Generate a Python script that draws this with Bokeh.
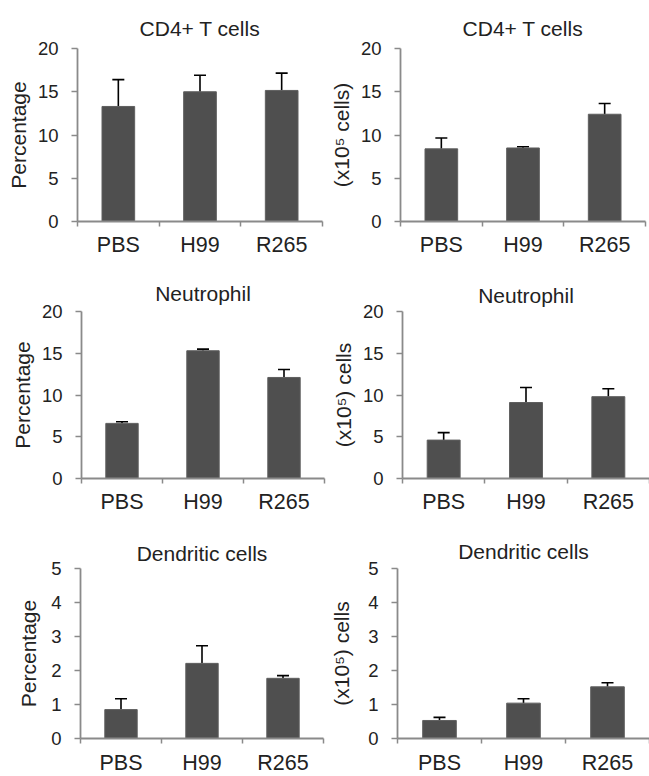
from bokeh.plotting import figure
from bokeh.layouts import column, row
from bokeh.models import Range1d, FixedTicker, ColumnDataSource, Whisker, TeeHead
from bokeh.embed import file_html
from bokeh.resources import INLINE

# ---- data ----
categories = ["PBS", "H99", "R265"]

cd4_pct = [13.3, 15.0, 15.15]
cd4_pct_err = [3.1, 1.9, 2.0]

cd4_num = [8.4, 8.5, 12.4]
cd4_num_err = [1.25, 0.15, 1.25]

neu_pct = [6.6, 15.3, 12.1]
neu_pct_err = [0.2, 0.2, 0.95]

neu_num = [4.6, 9.1, 9.8]
neu_num_err = [0.9, 1.8, 0.95]

dc_pct = [0.85, 2.21, 1.77]
dc_pct_err = [0.32, 0.52, 0.08]

dc_num = [0.53, 1.04, 1.52]
dc_num_err = [0.09, 0.13, 0.12]

ticks_20 = [0, 5, 10, 15, 20]
ticks_5 = [0, 1, 2, 3, 4, 5]

FONT = "Liberation Sans"
TXT = "#222222"
AX = "#8a8a8a"


def make(title, ylabel, vals, errs, ymax, yticks, bl, fw, br, bt, fh, bb,
         t_standoff, t_offset=0, label_standoff=5, x_standoff=6):
    n = len(categories)
    xs = [i + 0.5 for i in range(n)]
    src = ColumnDataSource(dict(x=xs, top=vals,
                                upper=[v + e for v, e in zip(vals, errs)]))
    p = figure(frame_width=fw, frame_height=fh,
               x_range=Range1d(0, n), y_range=Range1d(0, ymax),
               output_backend="svg", toolbar_location=None,
               min_border_left=bl, min_border_right=br,
               min_border_top=bt, min_border_bottom=bb)
    p.outline_line_color = None
    p.grid.visible = False
    p.background_fill_color = "white"

    p.vbar(x="x", top="top", bottom=0, width=0.4, source=src,
           fill_color="#4f4f4f", line_color="#5f5f5f", line_width=1)
    w = Whisker(base="x", lower="top", upper="upper", source=src,
                dimension="height", line_color="black", line_width=1.6,
                upper_head=TeeHead(size=12, line_color="black", line_width=1.6),
                lower_head=None)
    p.add_layout(w)

    p.title.text = title
    p.title.align = "center"
    p.title.text_font = FONT
    p.title.text_font_size = "21px"
    p.title.text_font_style = "normal"
    p.title.text_color = TXT
    p.title.standoff = t_standoff
    p.title.offset = t_offset

    xa = p.xaxis[0]
    xa.ticker = FixedTicker(ticks=xs, minor_ticks=list(range(n + 1)))
    xa.major_label_overrides = {x: c for x, c in zip(xs, categories)}
    xa.major_tick_line_color = None
    xa.major_tick_out = 5
    xa.major_tick_in = 0
    xa.minor_tick_line_color = AX
    xa.minor_tick_line_width = 1.5
    xa.minor_tick_out = 5
    xa.minor_tick_in = 0
    xa.axis_line_color = AX
    xa.axis_line_width = 1.8
    xa.major_label_text_font = FONT
    xa.major_label_text_font_size = "21.5px"
    xa.major_label_text_color = TXT
    xa.major_label_standoff = x_standoff

    ya = p.yaxis[0]
    ya.ticker = FixedTicker(ticks=yticks)
    ya.minor_tick_line_color = None
    ya.major_tick_out = 6
    ya.major_tick_in = 0
    ya.major_tick_line_color = AX
    ya.major_tick_line_width = 1.5
    ya.axis_line_color = AX
    ya.axis_line_width = 1.8
    ya.major_label_text_font = FONT
    ya.major_label_text_font_size = "18.5px"
    ya.major_label_text_color = TXT
    ya.major_label_standoff = 13
    ya.axis_label = ylabel
    ya.axis_label_text_font = FONT
    ya.axis_label_text_font_size = "21px"
    ya.axis_label_text_font_style = "normal"
    ya.axis_label_text_color = TXT
    ya.axis_label_standoff = label_standoff
    return p


# row 1
p1 = make("CD4+ T cells", "Percentage", cd4_pct, cd4_pct_err, 20, ticks_20,
          77, 245, 4, 48, 173, 45, 17, 2)
p2 = make("CD4+ T cells", "(x10\u2075 cells)", cd4_num, cd4_num_err, 20, ticks_20,
          65, 245, 12, 48, 173, 45, 17, 0)
# row 2
p3 = make("Neutrophil", "Percentage", neu_pct, neu_pct_err, 20, ticks_20,
          81, 243, 4, 45, 167, 46, 14, -11)
p4 = make("Neutrophil", "(x10\u2075) cells", neu_num, neu_num_err, 20, ticks_20,
          66, 247, 7, 45, 167, 46, 10, 13)
# row 3
p5 = make("Dendritic cells", "Percentage", dc_pct, dc_pct_err, 5, ticks_5,
          80, 243, 4, 44, 170, 36, 7, -4, 8, 7)
p6 = make("Dendritic cells", "(x10\u2075) cells", dc_num, dc_num_err, 5, ticks_5,
          64, 252, 5, 44, 170, 36, 12, 0, 12, 7)

layout = column(row(p1, p2), row(p3, p4), row(p5, p6))

open("out.html", "w").write(file_html(layout, INLINE))
